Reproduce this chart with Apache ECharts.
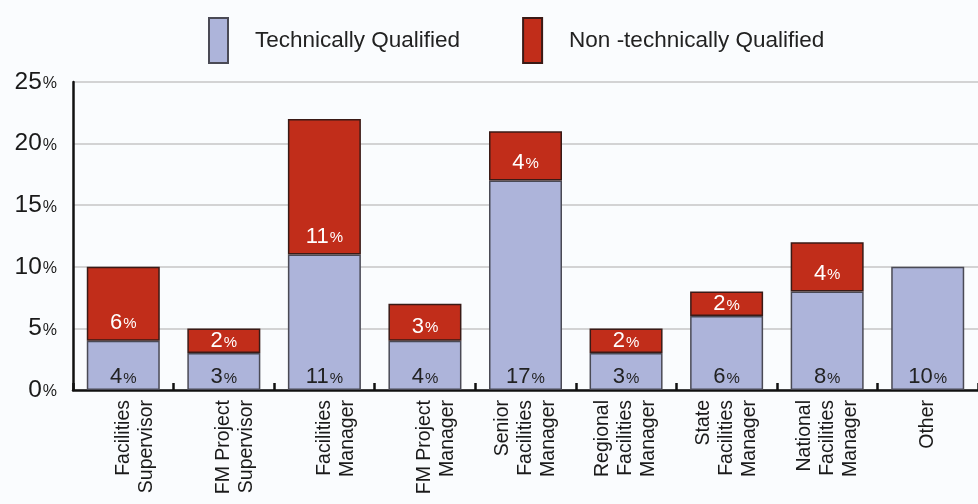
<!DOCTYPE html>
<html>
<head>
<meta charset="utf-8">
<script src="https://cdn.jsdelivr.net/npm/echarts@6/dist/echarts.min.js"></script>
<style>html,body{margin:0;padding:0;background:#fafcfe;}#c{width:978px;height:504px;}</style>
</head>
<body>
<div id="c"></div>
<script>
const categories = ['Facilities\nSupervisor','FM Project\nSupervisor','Facilities\nManager','FM Project\nManager','Senior\nFacilities\nManager','Regional\nFacilities\nManager','State\nFacilities\nManager','National\nFacilities\nManager','Other'];
const techQualified = [4, 3, 11, 4, 17, 3, 6, 8, 10];
const nonTechQualified = [6, 2, 11, 3, 4, 2, 2, 4, 0];
const yTicks = [0, 5, 10, 15, 20, 25];

const FONT = '"Liberation Sans", Arial, Helvetica, sans-serif';
const chart = echarts.init(document.getElementById('c'));

function valLabel(color, dist) {
  return {
    show: true,
    position: 'insideBottom',
    distance: dist,
    formatter: p => (p.value ? '{v|' + p.value + '}{p|%}' : ''),
    rich: {
      v: {fontSize: 22, color: color, fontFamily: FONT},
      p: {fontSize: 15, color: color, fontFamily: FONT, padding: [3, 0, 0, 1]}
    }
  };
}

// small red segments keep their label low inside the segment
const redData = nonTechQualified.map(v => {
  if (v === 0) return '-';
  const d = v <= 2 ? 1 : (v === 3 ? 3 : 7);
  return {value: v, label: {distance: d}};
});

chart.setOption({
  backgroundColor: '#fafcfe',
  animation: false,
  legend: {
    top: 12,
    left: 203,
    icon: 'rect',
    itemWidth: 19,
    itemHeight: 45,
    itemGap: 62,
    textStyle: {fontSize: 22.5, color: '#222', fontFamily: FONT, padding: [0, 0, 0, 22]},
    data: ['Technically Qualified', 'Non -technically Qualified']
  },
  grid: {left: 73, top: 82, bottom: 114, right: -8, containLabel: false},
  xAxis: {
    type: 'category',
    data: categories,
    axisLine: {lineStyle: {color: '#111', width: 2.5}},
    axisTick: {show: true, inside: true, length: 7, lineStyle: {color: '#111', width: 2.5}},
    axisLabel: {
      rotate: 90, interval: 0, margin: 10, fontSize: 19.5, lineHeight: 23,
      color: '#1a1a1a', fontFamily: FONT,
      formatter: v => (v.split('\n').length === 2 ? ' \n' + v : v)
    }
  },
  yAxis: {
    type: 'value',
    min: 0, max: 25, interval: 5,
    axisLine: {show: true, lineStyle: {color: '#111', width: 2.5}},
    axisTick: {show: false},
    splitLine: {lineStyle: {color: '#c6c6c6', width: 1.5}},
    axisLabel: {
      margin: 16,
      formatter: v => yTicks.includes(v) ? '{n|' + v + '}{p|%}' : '',
      rich: {
        n: {fontSize: 24.5, color: '#1a1a1a', fontFamily: FONT},
        p: {fontSize: 16, color: '#1a1a1a', fontFamily: FONT, padding: [4, 0, 0, 1]}
      }
    }
  },
  series: [
    {
      name: 'Technically Qualified',
      type: 'bar',
      stack: 'total',
      barWidth: 73,
      data: techQualified,
      itemStyle: {color: '#adb4da', borderColor: '#4a4a55', borderWidth: 1.5},
      label: valLabel('#222', 2)
    },
    {
      name: 'Non -technically Qualified',
      type: 'bar',
      stack: 'total',
      barWidth: 73,
      data: redData,
      itemStyle: {color: '#c12d1a', borderColor: '#3a1a16', borderWidth: 1.5},
      label: valLabel('#ffffff', 7)
    }
  ]
});
</script>
</body>
</html>
